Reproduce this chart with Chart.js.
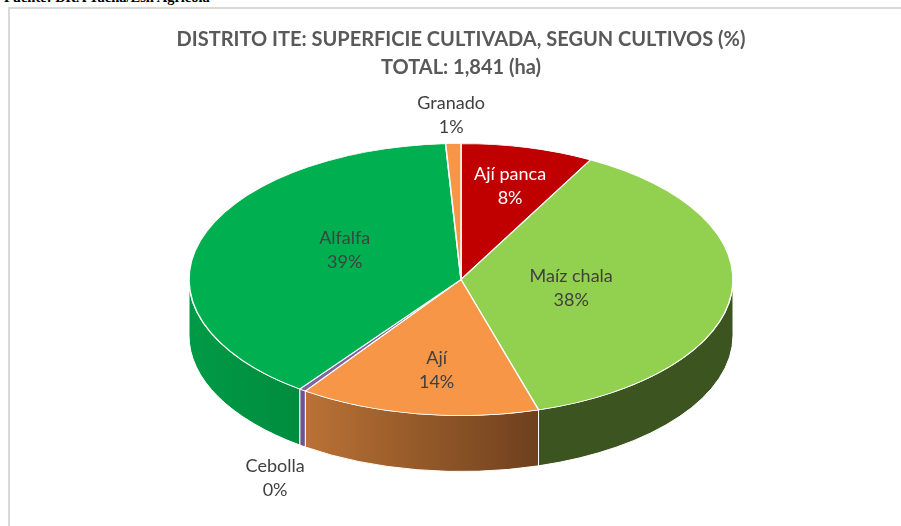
<!DOCTYPE html>
<html>
<head>
    <title>Distrito Ite: superficie cultivada</title>
    <script src="https://cdn.jsdelivr.net/npm/chart.js"></script>
    <style>
        html, body { margin: 0; padding: 0; background: #fff; overflow: hidden; }
        #source { position: absolute; left: 4px; top: -11px; font: bold 14.5px "Liberation Serif", serif; color: #000; white-space: nowrap; }
        #frame { position: absolute; left: 8px; top: 7px; width: 900px; height: 530px; border: 2px solid #d9d9d9; }
        #chart { position: absolute; left: 0; top: 0; }
    </style>
</head>
<body>
    <div id="source">Fuente: DRA Tacna/Esn Agrícola</div>
    <div id="frame"></div>
    <canvas id="chart" width="901" height="526"></canvas>

    <script>
        const cultivos = ['Ají panca', 'Maíz chala', 'Ají', 'Cebolla', 'Alfalfa', 'Granado'];
        const porcentajes = [7.9, 37.5, 14.3, 0.4, 39.0, 0.9];
        const titulo = ['DISTRITO ITE: SUPERFICIE CULTIVADA, SEGUN CULTIVOS (%)', 'TOTAL: 1,841 (ha)'];

        const coloresTapa = ['#C00000', '#92D050', '#F79646', '#8064A2', '#00B050', '#F79646'];
        // side wall colours, left and right end of the gradient
        const coloresLadoIzq = ['#700000', '#3C5420', '#BA7235', '#6F5590', '#009A46', '#A86A30'];
        const coloresLadoDer = ['#700000', '#3C5420', '#6E401D', '#6F5590', '#008C3E', '#A86A30'];
        const coloresTexto = ['#FFFFFF', '#404040', '#404040', '#404040', '#404040', '#404040'];
        // label place per slice: radius as fraction of the pie, turn in degrees from the slice middle
        const lugarEtiqueta = [
            { r: 0.71, giro: 0.5 },
            { r: 0.41, giro: 3 },
            { r: 0.67, giro: -1.5 },
            { r: 1.615, giro: -10.6 },
            { r: 0.48, giro: 10.5 },
            { r: 1.21, giro: -0.1 }
        ];

        const APLASTADO = 0.5;   // top of the pie seen at an angle
        const GROSOR = 56;       // height of the side wall

        // Squash the arcs Chart.js draws and put the side wall under them
        const pastel3d = {
            id: 'pastel3d',
            beforeDatasetsDraw(chart) {
                const ctx = chart.ctx;
                const arcs = chart.getDatasetMeta(0).data;
                arcs.forEach((arc, i) => {
                    const r = arc.outerRadius;
                    const rango = [[arc.startAngle, arc.endAngle], [arc.startAngle - 2 * Math.PI, arc.endAngle - 2 * Math.PI]];
                    rango.forEach(([ini, fin]) => {
                        const a0 = Math.max(ini, 0);
                        const a1 = Math.min(fin, Math.PI);
                        if (a1 <= a0) return;
                        const x0 = arc.x + r * Math.cos(a1);
                        const x1 = arc.x + r * Math.cos(a0);
                        const grad = ctx.createLinearGradient(x0, 0, x1, 0);
                        grad.addColorStop(0, coloresLadoIzq[i]);
                        grad.addColorStop(1, coloresLadoDer[i]);
                        ctx.beginPath();
                        ctx.ellipse(arc.x, arc.y, r, r * APLASTADO, 0, a0, a1);
                        ctx.ellipse(arc.x, arc.y + GROSOR, r, r * APLASTADO, 0, a1, a0, true);
                        ctx.closePath();
                        ctx.fillStyle = grad;
                        ctx.fill();
                        ctx.strokeStyle = '#FFFFFF';
                        ctx.lineWidth = 1;
                        ctx.stroke();
                    });
                });
                ctx.save();
                const a = arcs[0];
                ctx.translate(a.x, a.y);
                ctx.scale(1, APLASTADO);
                ctx.translate(-a.x, -a.y);
            },
            afterDatasetsDraw(chart) {
                const ctx = chart.ctx;
                ctx.restore();
                ctx.font = '18px Lato';
                ctx.textAlign = 'center';
                ctx.textBaseline = 'middle';
                chart.getDatasetMeta(0).data.forEach((arc, i) => {
                    const lugar = lugarEtiqueta[i];
                    const medio = (arc.startAngle + arc.endAngle) / 2 + lugar.giro * Math.PI / 180;
                    const x = arc.x + arc.outerRadius * lugar.r * Math.cos(medio);
                    const y = arc.y + arc.outerRadius * APLASTADO * lugar.r * Math.sin(medio);
                    const total = porcentajes.reduce((s, v) => s + v, 0);
                    ctx.fillStyle = coloresTexto[i];
                    ctx.fillText(cultivos[i], x, y - 12);
                    ctx.fillText(Math.round(porcentajes[i] / total * 100) + '%', x, y + 12);
                });
            }
        };

        new Chart(document.getElementById('chart'), {
            type: 'pie',
            data: {
                labels: cultivos,
                datasets: [{
                    data: porcentajes,
                    backgroundColor: coloresTapa,
                    borderColor: '#FFFFFF',
                    borderWidth: 1.5,
                    radius: 272,
                    clip: false
                }]
            },
            options: {
                responsive: false,
                animation: false,
                layout: { padding: { left: 21, top: 26, bottom: 49 } },
                plugins: {
                    legend: { display: false },
                    tooltip: { enabled: false },
                    title: {
                        display: true,
                        text: titulo,
                        color: '#595959',
                        font: { family: 'Lato', size: 20, weight: 'bold', lineHeight: 1.4 },
                        padding: 0
                    }
                }
            },
            plugins: [pastel3d]
        });
    </script>
</body>
</html>
